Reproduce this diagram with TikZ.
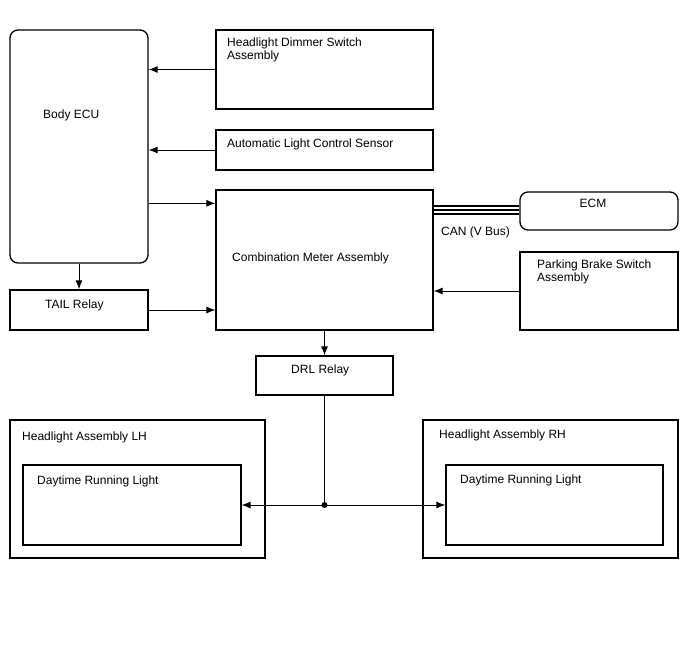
\documentclass[tikz,border=0pt]{standalone}
\usepackage{fontspec}
\setmainfont{Liberation Sans}
\usetikzlibrary{arrows.meta}
\tikzset{
  unit/.style={draw, line width=1.3pt, inner sep=0pt},
  ecubox/.style={unit, rounded corners=8pt},
  txt/.style={inner sep=0pt, anchor=base west, align=left, font=\fontsize{12}{13.5}\selectfont},
  link/.style={line width=0.9pt, -{Latex[length=9pt,width=7pt]}},
}
\begin{document}
\begin{tikzpicture}[x=1pt,y=-1pt]
\useasboundingbox (0,0) rectangle (688,658);
% units
\node[ecubox, minimum width=138, minimum height=233] (ecu) at (79,146.5) {};
\node[unit, minimum width=217, minimum height=79] (dimmer) at (324.5,69.5) {};
\node[unit, minimum width=217, minimum height=40] (sensor) at (324.5,150) {};
\node[unit, minimum width=217, minimum height=140] (meter) at (324.5,260) {};
\node[ecubox, minimum width=158, minimum height=38] (ecm) at (599,211) {};
\node[unit, minimum width=158, minimum height=78] (brake) at (599,291) {};
\node[unit, minimum width=138, minimum height=40] (tail) at (79,310) {};
\node[unit, minimum width=137, minimum height=39] (drl) at (324.5,375.5) {};
\node[unit, minimum width=255, minimum height=138] (lhout) at (137.5,489) {};
\node[unit, minimum width=218, minimum height=80] (lhin) at (132,505) {};
\node[unit, minimum width=255, minimum height=138] (rhout) at (550.5,489) {};
\node[unit, minimum width=217, minimum height=80] (rhin) at (554.5,505) {};
% labels
\node[txt] (ecutext) at (43,119) {Body ECU};
\node[txt, anchor=north west] (dimmertext) at (227,37.5) {Headlight Dimmer Switch\\Assembly};
\node[txt] (sensortext) at (227,147) {Automatic Light Control Sensor};
\node[txt] (metertext) at (232,261) {Combination Meter Assembly};
\node[txt, anchor=base] (ecmtext) at (593,207) {ECM};
\node[txt] (cantext) at (441,235) {CAN (V Bus)};
\node[txt, anchor=north west] (braketext) at (537,259.5) {Parking Brake Switch\\Assembly};
\node[txt] (tailtext) at (45,308) {TAIL Relay};
\node[txt] (drltext) at (291,373) {DRL Relay};
\node[txt] (lhtext) at (22,440) {Headlight Assembly LH};
\node[txt] (lhintext) at (37,484) {Daytime Running Light};
\node[txt] (rhtext) at (439,438) {Headlight Assembly RH};
\node[txt] (rhintext) at (460,483) {Daytime Running Light};
% connectors
\draw[link] (dimmer.west) -- (dimmer.west -| ecu.east);
\draw[link] (sensor.west) -- (sensor.west -| ecu.east);
\draw[link] ([yshift=-14pt]meter.north west -| ecu.east) -- ([yshift=-14pt]meter.north west);
\draw[link] (ecu.south) -- (tail.north);
\draw[link] (tail.east) -- (tail.east -| meter.west);
\draw[link] (brake.west) -- (brake.west -| meter.east);
\draw[link] (meter.south) -- (drl.north);
\foreach \dy in {5,1,-3}
  \draw[line width=1.6pt] ([yshift=\dy pt]meter.east |- ecm.west) -- ([yshift=\dy pt]ecm.west);
\coordinate (split) at (drl.south |- lhin.east);
\draw[line width=0.9pt] (drl.south) -- (split);
\fill (split) circle (3pt);
\draw[link] (split) -- (lhin.east);
\draw[link] (split) -- (rhin.west);
\end{tikzpicture}
\end{document}
